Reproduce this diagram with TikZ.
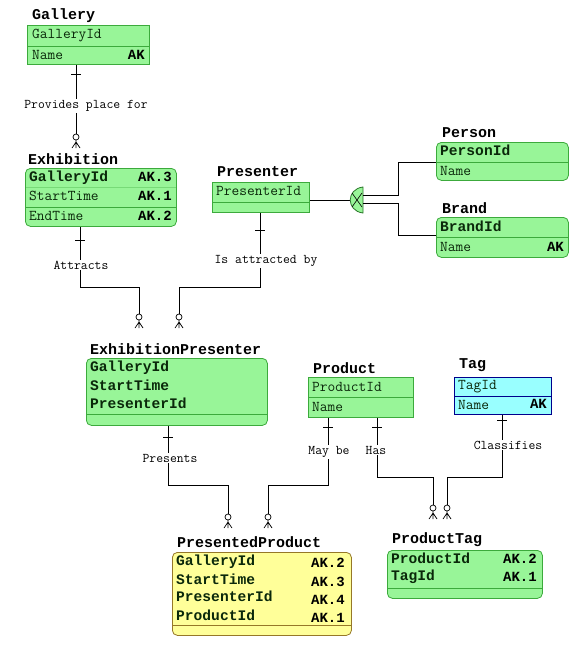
\documentclass[tikz,border=0pt]{standalone}
\usepackage{fontspec}
\newfontfamily\erdmono{Liberation Mono}
\newfontfamily\erdlm{Latin Modern Mono}
\newcommand\erdttl{\erdmono\bfseries\fontsize{15}{15}\selectfont}
\newcommand\erdfld{\erdlm\fontsize{15}{15}\selectfont}
\newcommand\erdbfld{\erdmono\bfseries\fontsize{14.6}{14.6}\selectfont}
\newcommand\erdak{\erdmono\bfseries\fontsize{14}{14}\selectfont}
\newcommand\erdlbl{\erdlm\fontsize{13.3}{13.3}\selectfont}
\definecolor{entgreen}{RGB}{152,245,152}
\definecolor{entgreenline}{RGB}{60,170,60}
\definecolor{entcyan}{RGB}{153,255,255}
\definecolor{entblue}{RGB}{0,0,140}
\definecolor{entyellow}{RGB}{255,255,153}
\definecolor{entbrown}{RGB}{150,120,40}
\definecolor{txtdark}{RGB}{10,40,10}
\tikzset{
  entbox/.style={draw=entgreenline, fill=entgreen, line width=0.8pt, anchor=north west, inner sep=0pt},
  rnd/.style={rounded corners=5pt},
  cyanbox/.style={entbox, draw=entblue, fill=entcyan},
  yelbox/.style={entbox, draw=entbrown, fill=entyellow},
  divline/.style={draw=entgreenline, line width=0.6pt},
  ttl/.style={anchor=west, inner sep=0pt, font=\erdttl},
  fld/.style={anchor=west, inner sep=0pt, font=\erdfld, text=txtdark, text height=9pt, text depth=2.5pt},
  bfld/.style={fld, font=\erdbfld},
  akl/.style={anchor=east, inner sep=0pt, font=\erdak, text height=9pt, text depth=2.5pt},
  lbl/.style={fill=white, inner sep=1pt, font=\erdlbl},
  conn/.style={draw=black, line width=0.9pt},
  crow/.pic={
    \draw[line width=0.7pt] (0,3) circle (3pt);
    \draw[line width=0.7pt] (0,6) -- (0,14) (0,8) -- (-4,14) (0,8) -- (4,14);
  },
  onebar/.pic={\draw[line width=0.9pt] (-5,0) -- (5,0);}
}
\begin{document}
\begin{tikzpicture}[x=1pt,y=-1pt]
\useasboundingbox[fill=white] (0,0) rectangle (588,649);

% ---------------- Gallery
\node[ttl] (galT) at (32,16) {Gallery};
\node[entbox, minimum width=122pt, minimum height=39pt] (gal) at (27,25) {};
\draw[divline] (gal.west |- 0,46) -- (gal.east |- 0,46);
\node[fld] (galF1) at (32,35) {GalleryId};
\node[fld] (galF2) at (32,56) {Name};
\node[akl] (galA2) at (145,56) {AK};

% ---------------- Exhibition
\node[ttl] (exhT) at (28,159) {Exhibition};
\node[entbox, rnd, minimum width=151pt, minimum height=58pt] (exh) at (25,168) {};
\draw[divline, draw opacity=0.35] (exh.west |- 0,187) -- (exh.east |- 0,187);
\draw[divline] (exh.west |- 0,207) -- (exh.east |- 0,207);
\node[bfld] (exhF1) at (29,178) {GalleryId};
\node[fld] (exhF2) at (29,197) {StartTime};
\node[fld] (exhF3) at (29,217) {EndTime};
\node[akl] (exhA1) at (172,178) {AK.3};
\node[akl] (exhA2) at (172,197) {AK.1};
\node[akl] (exhA3) at (172,217) {AK.2};

% ---------------- Presenter
\node[ttl] (preT) at (217,172) {Presenter};
\node[entbox, minimum width=97pt, minimum height=30pt] (pre) at (212,182) {};
\draw[divline] (pre.west |- 0,202) -- (pre.east |- 0,202);
\node[fld] (preF1) at (216,192) {PresenterId};

% ---------------- Person
\node[ttl] (perT) at (442,133) {Person};
\node[entbox, rnd, minimum width=132pt, minimum height=38pt] (per) at (436,142) {};
\draw[divline] (per.west |- 0,162) -- (per.east |- 0,162);
\node[bfld] (perF1) at (440,152) {PersonId};
\node[fld] (perF2) at (440,172) {Name};

% ---------------- Brand
\node[ttl] (braT) at (442,208) {Brand};
\node[entbox, rnd, minimum width=132pt, minimum height=40pt] (bra) at (436,217) {};
\draw[divline] (bra.west |- 0,237) -- (bra.east |- 0,237);
\node[bfld] (braF1) at (440,228) {BrandId};
\node[fld] (braF2) at (440,248) {Name};
\node[akl] (braA2) at (564,248) {AK};

% ---------------- ExhibitionPresenter
\node[ttl] (epT) at (90,349) {ExhibitionPresenter};
\node[entbox, rnd, minimum width=181pt, minimum height=67pt] (ep) at (86,358) {};
\draw[divline] (ep.west |- 0,414) -- (ep.east |- 0,414);
\node[bfld] (epF1) at (90,368) {GalleryId};
\node[bfld] (epF2) at (90,387) {StartTime};
\node[bfld] (epF3) at (90,405) {PresenterId};

% ---------------- Product
\node[ttl] (proT) at (313,368) {Product};
\node[entbox, minimum width=105pt, minimum height=40pt] (pro) at (308,377) {};
\draw[divline] (pro.west |- 0,397) -- (pro.east |- 0,397);
\node[fld] (proF1) at (312,388) {ProductId};
\node[fld] (proF2) at (312,408) {Name};

% ---------------- Tag
\node[ttl] (tagT) at (459,365) {Tag};
\node[cyanbox, minimum width=97pt, minimum height=37pt] (tag) at (454,377) {};
\draw[draw=entblue, line width=0.6pt] (tag.west |- 0,396) -- (tag.east |- 0,396);
\node[fld] (tagF1) at (458,386) {TagId};
\node[fld] (tagF2) at (458,406) {Name};
\node[akl] (tagA2) at (547,405) {AK};

% ---------------- PresentedProduct
\node[ttl] (ppT) at (177,542) {PresentedProduct};
\node[yelbox, rnd, minimum width=179pt, minimum height=83pt] (pp) at (172,552) {};
\draw[draw=entbrown, line width=0.6pt] (pp.west |- 0,625) -- (pp.east |- 0,625);
\node[bfld] (ppF1) at (176,562) {GalleryId};
\node[bfld] (ppF2) at (176,581) {StartTime};
\node[bfld] (ppF3) at (176,598) {PresenterId};
\node[bfld] (ppF4) at (176,617) {ProductId};
\node[akl] (ppA1) at (345,564) {AK.2};
\node[akl] (ppA2) at (345,583) {AK.3};
\node[akl] (ppA3) at (345,601) {AK.4};
\node[akl] (ppA4) at (345,619) {AK.1};

% ---------------- ProductTag
\node[ttl] (ptT) at (392,540) {ProductTag};
\node[entbox, rnd, minimum width=155pt, minimum height=48pt] (pt) at (387,550) {};
\draw[divline] (pt.west |- 0,588) -- (pt.east |- 0,588);
\node[bfld] (ptF1) at (391,560) {ProductId};
\node[bfld] (ptF2) at (391,577) {TagId};
\node[akl] (ptA1) at (537,560) {AK.2};
\node[akl] (ptA2) at (537,578) {AK.1};

% ---------------- connector end points (circle tops)
\coordinate (c1) at (76,134);
\coordinate (c2) at (139,314);
\coordinate (c3) at (179,314);
\coordinate (c4) at (228,514);
\coordinate (c5) at (268,514);
\coordinate (c6) at (433,505);
\coordinate (c7) at (447,505);

% Gallery -> Exhibition
\draw[conn] (gal.south -| c1) -- (c1);
\pic at (c1) {crow};
\pic at (76,74) {onebar};
\node[lbl] (l1) at (86,106) {Provides place for};

% Exhibition -> ExhibitionPresenter
\draw[conn] (exh.south -| 80,0) -- (80,287) -| (c2);
\pic at (c2) {crow};
\pic at (80,240) {onebar};
\node[lbl] (l2) at (81,265) {Attracts};

% Presenter -> ExhibitionPresenter
\draw[conn] (pre.south -| 260,0) -- (260,287) -| (c3);
\pic at (c3) {crow};
\pic at (260,230) {onebar};
\node[lbl] (l3) at (266,261) {Is attracted by};

% ExhibitionPresenter -> PresentedProduct
\draw[conn] (ep.south -| 168,0) -- (168,485) -| (c4);
\pic at (c4) {crow};
\pic at (168,437) {onebar};
\node[lbl] (l4) at (170,458) {Presents};

% Product -> PresentedProduct
\draw[conn] (pro.south -| 328,0) -- (328,485) -| (c5);
\pic at (c5) {crow};
\pic at (328,427) {onebar};
\node[lbl] (l5) at (329,452) {May be};

% Product -> ProductTag
\draw[conn] (pro.south -| 377,0) -- (377,477) -| (c6);
\pic at (c6) {crow};
\pic at (377,427) {onebar};
\node[lbl] (l6) at (376,450) {Has};

% Tag -> ProductTag
\draw[conn] (tag.south -| 502,0) -- (502,477) -| (c7);
\pic at (c7) {crow};
\pic at (502,420) {onebar};
\node[lbl] (l7) at (508,445) {Classifies};

% ---------------- Category (Presenter -> Person / Brand)
\coordinate (catL) at (350,200);
\draw[conn] (pre.east |- catL) -- (catL);
\draw[draw=entgreenline!70!black, fill=entgreen, line width=0.8pt]
  (363,187) .. controls (346,189) and (346,211) .. (363,213) -- cycle;
\draw[line width=0.6pt] (352,193) -- (362,207) (352,207) -- (362,193);
\draw[conn] (363,195) -- (398,195) |- (per.west |- 0,162);
\draw[conn] (363,203) -- (398,203) |- (bra.west |- 0,235);
\end{tikzpicture}
\end{document}
